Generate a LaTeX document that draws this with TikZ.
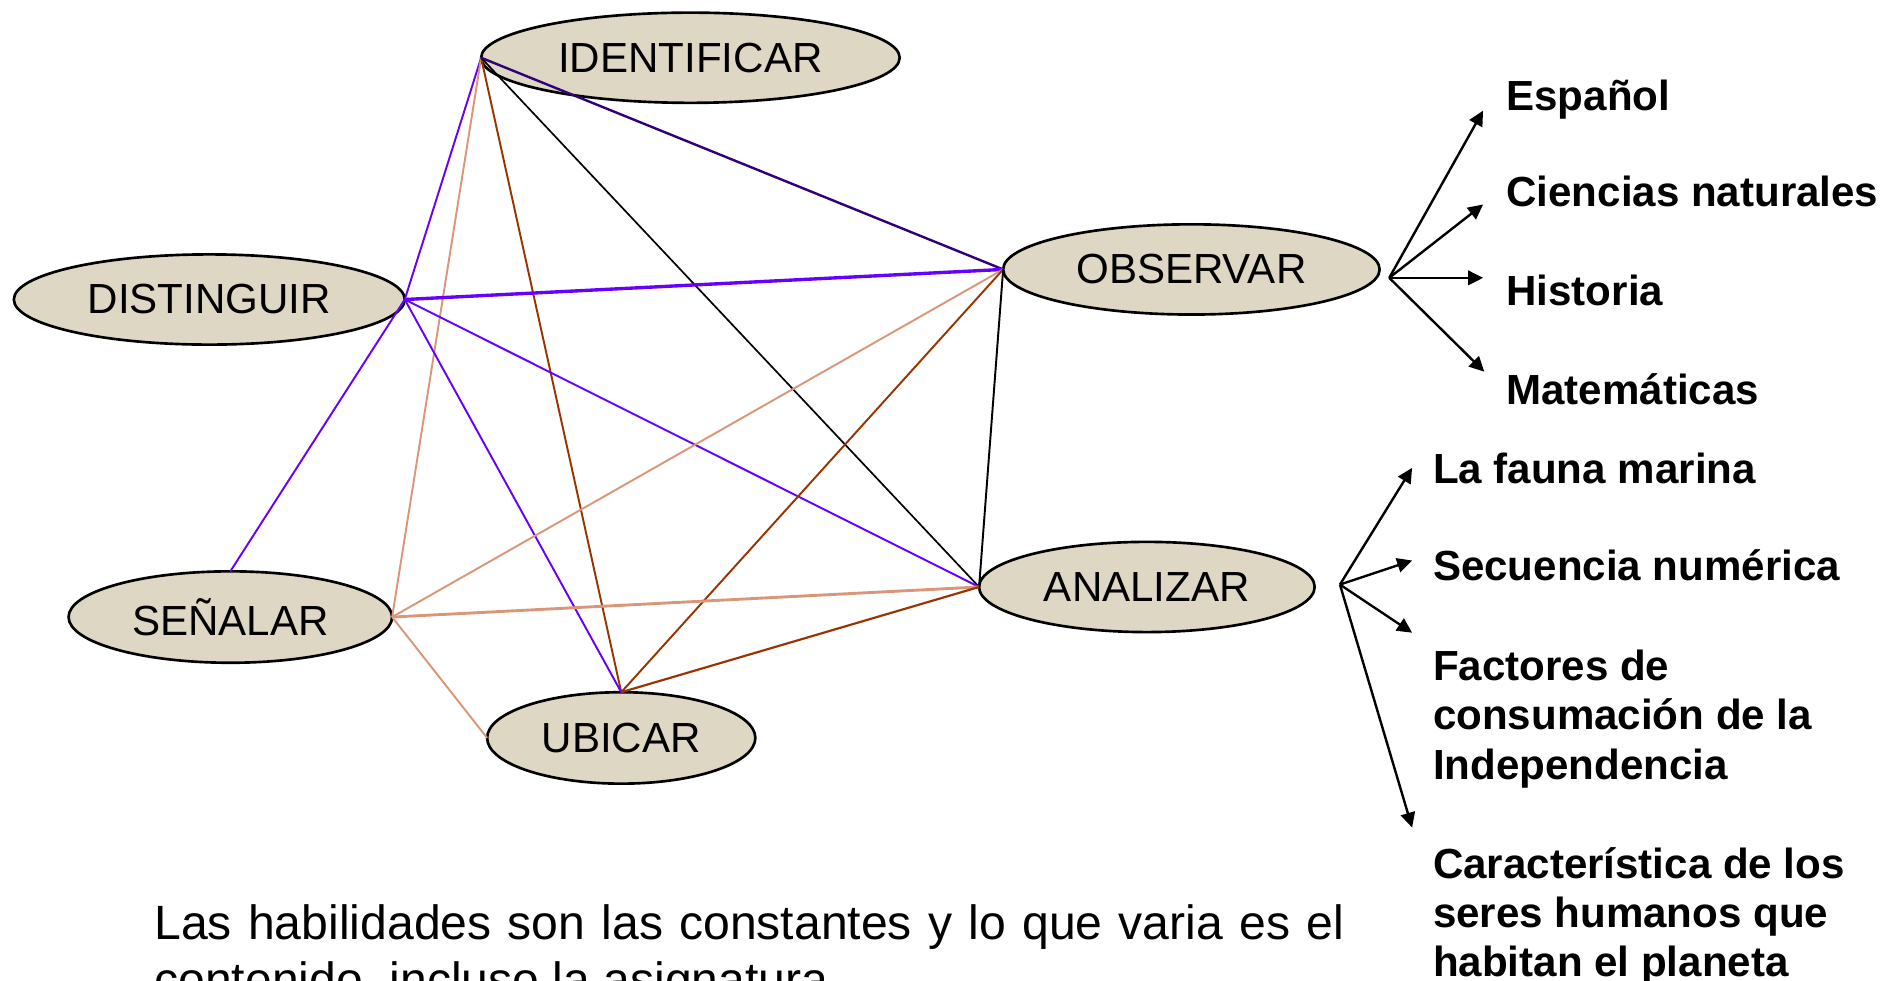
\documentclass[tikz,border=0pt]{standalone}
\usepackage{fontspec}
\setmainfont{Liberation Sans}
\usepackage{tikz}
\usetikzlibrary{shapes.geometric,arrows.meta}
\definecolor{arena}{RGB}{221,215,196}
\definecolor{violeta}{RGB}{102,0,255}
\definecolor{marino}{RGB}{48,0,120}
\definecolor{salmon}{RGB}{218,150,120}
\definecolor{cafe}{RGB}{153,51,0}
\tikzstyle{habilidad} = [draw=black, line width=1.1pt, ellipse, fill=arena, inner sep=0pt, outer sep=0pt, minimum height=37.5pt, font=\fontsize{17.5}{21}\selectfont]
\tikzstyle{tema} = [inner sep=0pt, anchor=base west, align=left, font=\fontsize{17.5}{20.5}\selectfont\bfseries]
\tikzstyle{flecha} = [line width=1pt, -{Triangle[length=6.2pt,width=6pt]}]

\begin{document}
\begin{tikzpicture}[x=0.5pt,y=-0.5pt]
\useasboundingbox (0,0) rectangle (1568,815);
\clip (0,0) rectangle (1568,815);

% habilidades
\node[habilidad, minimum width=174pt] (idn) at (574,48) {IDENTIFICAR};
\node[habilidad, minimum width=162.5pt] (dst) at (174,249) {DISTINGUIR};
\node[habilidad, minimum width=156.5pt] (obs) at (990.5,224) {OBSERVAR};
\node[habilidad, minimum width=134.5pt, minimum height=38pt] (sen) at (191.5,513) {SEÑALAR};
\node[habilidad, minimum width=139.5pt] (ana) at (953.5,488) {ANALIZAR};
\node[habilidad, minimum width=111.5pt, minimum height=38pt] (ubi) at (516.5,613.5) {UBICAR};

\draw[violeta, line width=0.8pt] (idn.west) -- (dst.east);
\draw[salmon, line width=0.8pt] (idn.west) -- (sen.east);
\draw[cafe, line width=0.8pt] (idn.west) -- (ubi.north);
\draw[black, line width=0.7pt] (idn.west) -- (ana.west);
\draw[marino, line width=1pt] (idn.west) -- (obs.west);
\draw[violeta, line width=1.4pt] (dst.east) -- (obs.west);
\draw[violeta, line width=0.8pt] (dst.east) -- (sen.north);
\draw[violeta, line width=0.8pt] (dst.east) -- (ubi.north);
\draw[violeta, line width=0.8pt] (dst.east) -- (ana.west);
\draw[salmon, line width=0.8pt] (obs.west) -- (sen.east);
\draw[cafe, line width=0.8pt] (obs.west) -- (ubi.north);
\draw[black, line width=0.8pt] (obs.west) -- (ana.west);
\draw[salmon, line width=1.2pt] (sen.east) -- (ana.west);
\draw[salmon, line width=0.8pt] (sen.east) -- (ubi.west);
\draw[cafe, line width=0.9pt] (ubi.north) -- (ana.west);

% contenidos
\node[tema] (esp) at (1252,92) {Español};
\node[tema] (cie) at (1252,172) {Ciencias naturales};
\node[tema] (his) at (1252,254) {Historia};
\node[tema] (mat) at (1252,336) {Matemáticas};
\node[tema] (fau) at (1191,402) {La fauna marina};
\node[tema] (sec) at (1191,483) {Secuencia numérica};
\node[tema, anchor=north west] (fac) at (1191,540) {Factores de\\consumación de la\\Independencia};
\node[tema, anchor=north west] (car) at (1191,704) {Característica de los\\seres humanos que\\habitan el planeta};

\coordinate (rO) at (1155,231);
\coordinate (tEsp) at (1233,92);
\coordinate (tCie) at (1233,170);
\coordinate (tHis) at (1233,231);
\coordinate (tMat) at (1234,309);
\draw[flecha] (rO) -- (tEsp);
\draw[flecha] (rO) -- (tCie);
\draw[flecha] (rO) -- (tHis);
\draw[flecha] (rO) -- (tMat);

\coordinate (rA) at (1114,486);
\coordinate (tFau) at (1174,389);
\coordinate (tSec) at (1174,466);
\coordinate (tFac) at (1174,526);
\coordinate (tCar) at (1174,688);
\draw[flecha] (rA) -- (tFau);
\draw[flecha] (rA) -- (tSec);
\draw[flecha] (rA) -- (tFac);
\draw[flecha] (rA) -- (tCar);

\node[inner sep=0pt, anchor=north west, text width=494.5pt, align=justify, font=\fontsize{20}{23.5}\selectfont] (nota) at (128,752) {Las habilidades son las constantes y lo que varia es el contenido, incluso la asignatura.}; %texto al pie
\end{tikzpicture}
\end{document}
